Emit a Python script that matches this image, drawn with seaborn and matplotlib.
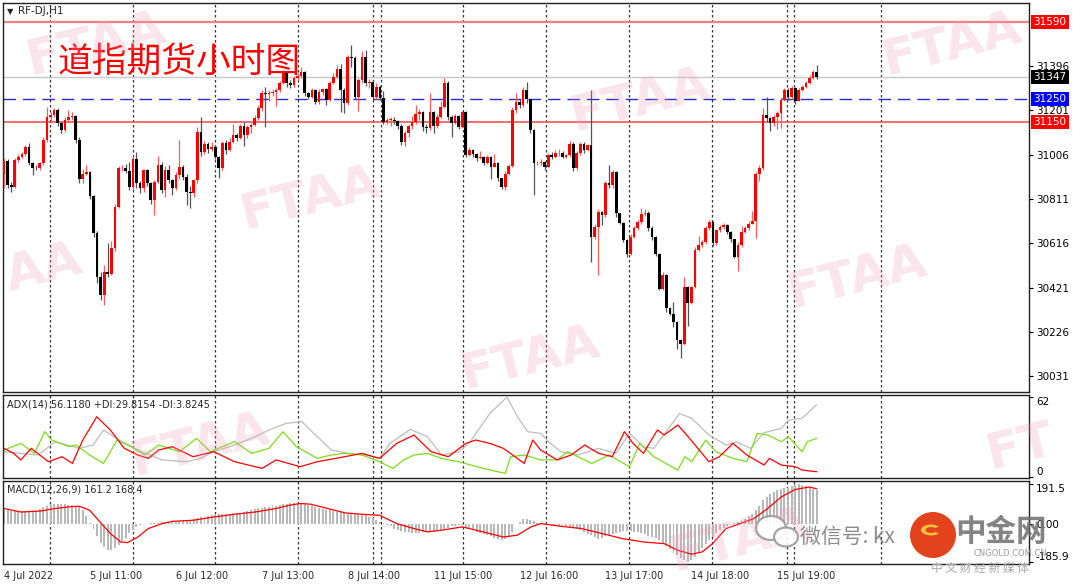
import numpy as np
import matplotlib.pyplot as plt
import matplotlib.patches as mpatches
import seaborn as sns

sns.set_style("white")
plt.rcParams['font.family'] = ['DejaVu Sans', 'Noto Sans CJK SC']

# RF-DJ H1 candles: open of the first bar, then close / high / low of every bar
first_open = 30923
closes = [30979, 30872, 30865, 30982, 30997, 31007, 31041, 30971, 30949, 30946,
          30968, 31070, 31170, 31179, 31202, 31144, 31114, 31158, 31170, 31174,
          31070, 30897, 30921, 30930, 30824, 30662, 30469, 30388, 30491, 30483,
          30594, 30777, 30946, 30949, 30935, 30865, 30985, 30880, 30858, 30938,
          30880, 30806, 30887, 30960, 30850, 30938, 30894, 30858, 30916, 30953,
          30909, 30843, 30836, 30894, 31107, 31019, 31053, 31029, 31041, 30997,
          30946, 31056, 31026, 31063, 31092, 31080, 31132, 31092, 31126, 31136,
          31166, 31210, 31276, 31273, 31278, 31280, 31290, 31322, 31364, 31320,
          31312, 31342, 31352, 31371, 31276, 31261, 31290, 31239, 31283, 31293,
          31246, 31320, 31349, 31381, 31290, 31232, 31437, 31429, 31261, 31334,
          31437, 31320, 31327, 31261, 31305, 31254, 31151, 31158, 31160, 31154,
          31132, 31063, 31100, 31132, 31151, 31185, 31195, 31129, 31122, 31195,
          31132, 31173, 31217, 31320, 31173, 31144, 31176, 31129, 31195, 31004,
          31026, 31009, 30990, 30997, 30971, 30994, 30953, 30971, 30902, 30865,
          30923, 30956, 31202, 31239, 31224, 31290, 31249, 31114, 30968, 30971,
          30975, 30953, 31004, 30997, 31012, 31015, 30997, 31004, 31053, 30946,
          31012, 31053, 31026, 31048, 30645, 30689, 30755, 30740, 30880, 30872,
          30931, 30748, 30706, 30630, 30571, 30645, 30682, 30711, 30745, 30750,
          30682, 30645, 30571, 30417, 30476, 30330, 30307, 30271, 30190, 30175,
          30425, 30352, 30425, 30586, 30608, 30623, 30682, 30711, 30616, 30674,
          30686, 30696, 30667, 30633, 30557, 30608, 30667, 30682, 30703, 30715,
          30923, 30946, 31180, 31166, 31147, 31170, 31191, 31246, 31290, 31258,
          31298, 31243, 31290, 31305, 31322, 31342, 31368, 31347]
highs = [30990, 30985, 30885, 30990, 31007, 31019, 31048, 31056, 30975, 30960,
         30975, 31085, 31217, 31195, 31210, 31210, 31151, 31170, 31202, 31195,
         31180, 31085, 30945, 30960, 30935, 30830, 30670, 30490, 30520, 30616,
         30625, 30790, 30955, 30960, 30965, 30975, 31000, 31019, 30890, 30945,
         30945, 30887, 30895, 31000, 30975, 30955, 30960, 30900, 30930, 31070,
         30960, 30920, 30870, 30900, 31129, 31170, 31065, 31060, 31060, 31045,
         31000, 31065, 31070, 31078, 31140, 31100, 31140, 31150, 31135, 31144,
         31180, 31224, 31290, 31305, 31290, 31295, 31298, 31330, 31380, 31372,
         31335, 31350, 31364, 31390, 31375, 31280, 31300, 31295, 31295, 31300,
         31298, 31330, 31364, 31400, 31405, 31300, 31445, 31488, 31440, 31345,
         31460, 31466, 31340, 31334, 31320, 31312, 31285, 31165, 31170, 31170,
         31160, 31140, 31110, 31140, 31175, 31224, 31205, 31200, 31140, 31276,
         31200, 31185, 31240, 31342, 31330, 31180, 31185, 31180, 31200, 31200,
         31040, 31030, 31015, 31020, 31000, 31005, 31000, 31010, 30975, 30905,
         30935, 30965, 31217, 31276, 31250, 31305, 31327, 31250, 31118, 30980,
         30985, 30980, 31015, 31019, 31025, 31030, 31020, 31010, 31065, 31060,
         31020, 31060, 31060, 31055, 31290, 30700, 30765, 30760, 30890, 30960,
         30940, 30935, 30750, 30710, 30635, 30655, 30690, 30720, 30770, 30765,
         30760, 30690, 30650, 30575, 30490, 30480, 30335, 30360, 30275, 30195,
         30468, 30430, 30430, 30600, 30650, 30630, 30690, 30720, 30715, 30680,
         30695, 30705, 30700, 30670, 30636, 30620, 30690, 30690, 30715, 30760,
         30930, 30960, 31210, 31260, 31170, 31180, 31200, 31258, 31300, 31300,
         31310, 31305, 31300, 31312, 31330, 31356, 31378, 31400]
lows = [30860, 30858, 30843, 30858, 30975, 30990, 31000, 30960, 30916, 30938,
        30938, 30960, 31060, 31151, 31170, 31130, 31100, 31107, 31151, 31158,
        31056, 30880, 30880, 30915, 30810, 30645, 30440, 30365, 30345, 30470,
        30476, 30580, 30770, 30935, 30925, 30850, 30850, 30860, 30836, 30843,
        30870, 30790, 30740, 30880, 30836, 30820, 30880, 30828, 30850, 30900,
        30895, 30785, 30770, 30820, 30880, 31000, 31010, 31015, 31020, 30985,
        30902, 30940, 31010, 31020, 31056, 31065, 31075, 31044, 31080, 31100,
        31130, 31160, 31200, 31126, 31240, 31265, 31220, 31280, 31315, 31305,
        31298, 31305, 31335, 31345, 31265, 31250, 31255, 31230, 31230, 31270,
        31224, 31240, 31315, 31345, 31195, 31188, 31225, 31390, 31250, 31200,
        31320, 31310, 31300, 31250, 31250, 31245, 31140, 31140, 31130, 31140,
        31120, 31050, 31045, 31085, 31120, 31140, 31160, 31110, 31100, 31115,
        31100, 31125, 31165, 31210, 31160, 31085, 31140, 31120, 31125, 30995,
        31000, 30997, 30980, 30985, 30960, 30965, 30900, 30950, 30890, 30855,
        30850, 30915, 30950, 31190, 31210, 31215, 31235, 31100, 30828, 30960,
        30960, 30940, 30950, 30985, 30990, 31000, 30990, 30990, 30995, 30935,
        30940, 31005, 31015, 31020, 30535, 30635, 30476, 30696, 30730, 30860,
        30860, 30730, 30700, 30620, 30557, 30565, 30640, 30675, 30700, 30735,
        30670, 30630, 30560, 30410, 30410, 30315, 30300, 30250, 30150, 30110,
        30170, 30254, 30350, 30420, 30580, 30600, 30615, 30675, 30605, 30610,
        30665, 30680, 30655, 30620, 30550, 30495, 30600, 30660, 30675, 30700,
        30640, 30890, 30940, 31150, 31110, 31130, 31120, 31125, 31240, 31245,
        31250, 31230, 31240, 31285, 31300, 31318, 31340, 31340]

price_ticks = [31396, 31201, 31006, 30811, 30616, 30421, 30226, 30031]
level_prices = [31590, 31347, 31250, 31150]
level_box_colors = ['#ff0000', '#000000', '#0000ff', '#ff0000']

date_bars = [0, 24, 48, 72, 96, 120, 144, 168, 192, 216]
date_labels = ['4 Jul 2022', '5 Jul 11:00', '6 Jul 12:00', '7 Jul 13:00', '8 Jul 14:00',
               '11 Jul 15:00', '12 Jul 16:00', '13 Jul 17:00', '14 Jul 18:00', '15 Jul 19:00']
sep_bars = [12.9, 36.0, 58.9, 82.1, 103.1, 105.3, 128.2, 151.4, 174.6, 197.8, 218.7, 220.7, 245.0]

# ADX(14) panel, values read at the turning points
adx_x = [0, 9.5, 14.3, 21.0, 24.9, 27.8, 32.1, 38.4, 44.2, 50.9,
         54.8, 58.6, 64.4, 70.2, 74.0, 78.8, 83.2, 85.6, 91.4, 96.2,
         101.0, 104.9, 107.8, 113.5, 118.3, 122.2, 127.0, 129.9, 135.7, 140.5,
         143.4, 146.3, 149.9, 152.6, 155.5, 160.3, 166.1, 170.9, 174.7, 178.6,
         181.5, 188.7, 192.1, 196.9, 201.7, 204.6, 208.5, 212.3, 217.1, 219.1,
         222.9, 227]
adx_vals = [19.4, 16.8, 27.2, 22.0, 24.6, 36.3, 28.5, 19.4, 13.0, 11.6,
            14.2, 19.4, 24.6, 31.1, 36.3, 41.5, 42.8, 36.3, 20.7, 18.1,
            16.8, 14.2, 25.9, 36.8, 31.1, 16.8, 19.4, 25.9, 49.2, 62.0,
            46.6, 35.0, 33.7, 25.9, 19.4, 16.8, 22.0, 18.1, 33.7, 23.3,
            22.0, 49.2, 45.4, 32.4, 24.6, 27.2, 22.0, 34.2, 37.6, 44.0,
            45.4, 56.1]
pdi_x = [0, 4.7, 8.5, 11.4, 13.3, 18.2, 20.1, 23.9, 27.8, 31.6,
         35.5, 39.3, 43.2, 49.0, 53.8, 57.6, 64.4, 69.2, 74.0, 77.9,
         81.7, 87.5, 91.4, 95.2, 100.0, 104.9, 108.7, 111.6, 114.5, 118.3,
         122.2, 127.0, 133.8, 140.0, 141.5, 145.3, 149.9, 154.5, 157.4, 160.3,
         164.2, 169.0, 174.7, 177.6, 181.5, 188.2, 190.2, 192.1, 196.0, 198.8,
         203.6, 207.5, 210.4, 213.3, 217.1, 219.1, 222.9, 224.4, 227]
pdi_vals = [20.7, 25.9, 18.1, 35.0, 28.5, 23.3, 24.6, 16.8, 10.3, 28.5,
            23.3, 16.8, 24.6, 19.4, 29.8, 19.4, 27.2, 18.1, 22.0, 35.0,
            23.3, 14.2, 16.8, 18.1, 16.8, 11.6, 6.4, 13.0, 16.8, 18.1,
            14.2, 11.6, 6.4, 2.5, 15.5, 16.8, 13.0, 13.0, 19.4, 15.5,
            10.3, 16.8, 7.7, 25.9, 15.5, 5.1, 15.5, 11.6, 28.5, 19.4,
            14.2, 11.6, 33.7, 32.4, 27.2, 31.1, 19.4, 27.2, 29.8]
mdi_x = [0, 2.7, 4.7, 7.6, 12.4, 16.2, 19.1, 22.0, 25.9, 29.7,
         33.6, 37.4, 40.3, 43.2, 47.0, 52.8, 58.6, 64.4, 72.1, 76.0,
         82.7, 87.5, 95.2, 100.0, 104.9, 109.7, 114.5, 119.3, 124.1, 129.0,
         131.8, 135.7, 139.5, 145.3, 147.7, 149.9, 154.5, 158.4, 162.2, 166.1,
         169.9, 173.3, 175.7, 178.6, 182.5, 184.4, 188.2, 191.1, 196.9, 199.8,
         203.6, 207.5, 212.3, 213.8, 217.1, 221.0, 222.9, 227]
mdi_vals = [22.0, 18.1, 13.0, 22.0, 11.6, 15.5, 10.3, 28.5, 46.6, 36.3,
            22.0, 16.8, 14.2, 20.7, 23.3, 15.5, 19.4, 11.6, 6.4, 13.0,
            7.7, 11.6, 15.5, 18.1, 14.2, 25.9, 32.4, 19.4, 15.5, 25.9,
            28.5, 25.9, 22.0, 10.3, 28.5, 20.7, 13.0, 16.8, 24.6, 18.1,
            15.5, 35.0, 25.9, 18.1, 36.3, 32.4, 40.2, 31.1, 11.6, 15.5,
            25.9, 16.8, 9.0, 14.2, 9.0, 7.7, 5.1, 3.8]

# MACD(12,26,9): histogram per bar, signal line at turning points
macd_hist = [65, 64, 63, 62, 61, 61, 61, 61, 61, 62,
             70, 78, 84, 89, 93, 94, 94, 93, 92, 90,
             86, 80, 65, 35, 5, -25, -60, -95, -115, -129,
             -126, -118, -105, -85, -70, -45, -30, -15, -8, -3,
             0, 3, 4, 5, 7, 8, 9, 10, 10, 11,
             11, 13, 17, 22, 26, 30, 34, 38, 41, 43,
             45, 46, 47, 48, 49, 51, 52, 56, 61, 66,
             70, 73, 76, 79, 82, 84, 86, 90, 94, 97,
             99, 100, 100, 98, 94, 89, 84, 78, 74, 71,
             68, 64, 61, 57, 54, 52, 50, 48, 47, 46,
             45, 40, 34, 26, 18, 10, 3, -5, -14, -24,
             -30, -35, -40, -43, -45, -45, -44, -43, -42, -41,
             -40, -36, -32, -26, -22, -14, -10, -8, -8, -15,
             -25, -32, -40, -47, -52, -56, -62, -68, -73, -77,
             -75, -65, -40, 0, 10, 24, 22, 19, 12, 3,
             -3, -4, -5, -7, -8, -10, -12, -14, -16, -20,
             -26, -33, -40, -48, -56, -64, -73, -68, -62, -55,
             -50, -45, -40, -36, -35, -37, -40, -43, -45, -52,
             -58, -65, -72, -81, -95, -110, -125, -140, -150, -165,
             -178, -185.9, -175, -160, -137, -120, -100, -80, -65, -45,
             -30, -19, -10, -2, 3, 8, 15, 24, 36, 48,
             65, 85, 113, 130, 145, 155, 161, 166, 170, 174,
             180, 185, 191.5, 188, 182, 175, 168, 161.2]
sig_x = [0, 4.7, 10.4, 14.3, 18.2, 21.0, 23.9, 26.8, 29.7, 32.6,
         34.5, 37.4, 40.3, 44.2, 47.0, 52.8, 58.6, 64.4, 70.2, 76.0,
         79.8, 82.7, 85.6, 90.4, 95.2, 100.0, 104.9, 109.7, 114.5, 118.3,
         122.2, 128.0, 133.8, 139.5, 143.4, 147.2, 149.9, 155.5, 161.3, 167.0,
         172.8, 178.6, 184.4, 188.2, 192.1, 195.0, 197.9, 201.7, 205.6, 209.4,
         213.3, 217.1, 221.0, 224.9, 227]
sig_vals = [73, 56, 61, 73, 81, 84, 65, 8, -48, -89,
            -92, -65, -24, 0, 11, 16, 32, 45, 56, 73,
            89, 97, 94, 73, 52, 45, 40, 0, -24, -40,
            -32, -16, -40, -65, -56, -16, 0, -13, -24, -48,
            -73, -89, -97, -129, -148, -137, -97, -24, 0, 24,
            73, 129, 165, 177, 168.4]

# ---------------------------------------------------------------
W, H = 1080, 585
fig = plt.figure(figsize=(W / 100, H / 100), dpi=100)
fig.patch.set_facecolor('white')


def panel(top, bottom):
    return fig.add_axes([3 / W, 1 - bottom / H, 1026 / W, (bottom - top) / H])


ax = panel(3, 392)
ax_adx = panel(395, 478)
ax_macd = panel(481, 564)

for a in (ax, ax_adx, ax_macd):
    a.set_facecolor('white')
    a.set_xlim(-0.28, 286.3)
    for xb in sep_bars:
        a.axvline(xb, color='#333333', lw=0.9, ls=(0, (2, 2)), zorder=1)
    for s in a.spines.values():
        s.set_color('#202020')
        s.set_linewidth(1)
    a.yaxis.tick_right()
    a.tick_params(axis='y', length=3, width=0.8, labelsize=7.5, pad=2,
                  colors='black', direction='out')
    a.set_xlabel('')
    a.set_ylabel('')

# candles
idx = np.arange(len(closes))
c = np.array(closes, float)
o = np.array([first_open] + closes[:-1], float)
hi = np.array(highs, float)
lo = np.array(lows, float)
up = c >= o
ax.vlines(idx[up], lo[up], hi[up], color='#ff5c5c', lw=0.9, zorder=3)
ax.vlines(idx[~up], lo[~up], hi[~up], color='#555555', lw=0.9, zorder=3)
body_bottom = np.minimum(o, c)
body_h = np.maximum(np.abs(c - o), 3)
ax.bar(idx, body_h, bottom=body_bottom, width=0.75,
       color=np.where(up, '#ff0000', '#000000'), linewidth=0, zorder=4)

# horizontal levels
ax.axhline(level_prices[0], color='#f57f7f', lw=1.6, zorder=2)
ax.axhline(level_prices[1], color='#c8c8c8', lw=1.0, zorder=2)
ax.axhline(level_prices[2], color='#2b2bd6', lw=1.0, ls=(0, (9, 5)), zorder=2)
ax.axhline(level_prices[3], color='#f25555', lw=1.2, zorder=2)

ax.set_ylim(29962, 31673)
ax.set_yticks(price_ticks)
ax.set_yticklabels([str(p) for p in price_ticks])
ax.set_xticks([])
for p, col in zip(level_prices, level_box_colors):
    ax.text(1.0045, p, str(p), transform=ax.get_yaxis_transform(), ha='left',
            va='center', fontsize=7.5, color='white', clip_on=False, zorder=6,
            bbox=dict(boxstyle='square,pad=0.22', fc=col, ec='none'))

ax.text(0.0035, 0.979, '\u25bc', transform=ax.transAxes, fontsize=6,
        va='center', ha='left')
ax.text(0.0145, 0.979, 'RF-DJ,H1', transform=ax.transAxes, fontsize=7.5,
        va='center', ha='left')
ax.text(0.0536, 0.848, '道指期货小时图', transform=ax.transAxes, fontsize=25,
        fontweight='light', color='#ff0000', va='center', ha='left',
        family=['Noto Sans CJK SC'])

# ADX panel
sns.lineplot(x=adx_x, y=adx_vals, ax=ax_adx, color='#bdbdbd', lw=0.9)
sns.lineplot(x=pdi_x, y=pdi_vals, ax=ax_adx, color='#7cdc1c', lw=0.9)
sns.lineplot(x=mdi_x, y=mdi_vals, ax=ax_adx, color='#ff0000', lw=0.9)
ax_adx.set_xlim(-0.28, 286.3)
ax_adx.set_ylim(-1.1, 63.6)
ax_adx.set_xticks([])
ax_adx.set_yticks([62, 0])
ax_adx.set_yticklabels(['62', '0'])
ax_adx.get_yticklabels()[0].set_va('top')
ax_adx.get_yticklabels()[1].set_va('bottom')
ax_adx.text(0.004, 0.88, 'ADX(14) 56.1180 +DI:29.8154 -DI:3.8245',
            transform=ax_adx.transAxes, fontsize=7, va='center', ha='left')

# MACD panel
ax_macd.bar(idx, macd_hist, width=0.55, color='#b8b8b8', linewidth=0, zorder=2)
sns.lineplot(x=sig_x, y=sig_vals, ax=ax_macd, color='#ff0000', lw=0.9)
ax_macd.set_xlim(-0.28, 286.3)
ax_macd.set_ylim(-195.5, 206)
ax_macd.set_yticks([191.5, 0, -185.9])
ax_macd.set_yticklabels(['191.5', '0.00', '-185.9'])
ax_macd.get_yticklabels()[0].set_va('top')
ax_macd.get_yticklabels()[2].set_va('bottom')
ax_macd.set_xticks(date_bars)
ax_macd.set_xticklabels(date_labels, ha='left', fontsize=7)
ax_macd.tick_params(axis='x', length=3, width=0.8, pad=2, direction='out')
ax_macd.text(0.004, 0.9, 'MACD(12,26,9) 161.2 168.4',
             transform=ax_macd.transAxes, fontsize=7, va='center', ha='left')
ax_macd.set_xlabel('')

# FTAA watermarks (partly hidden ones keep only their visible letters)
for txt, xp, yp in [('FTAA', 96, 44), ('FTAA', 310, 198), ('FTAA', 640, 100),
                    ('FTAA', 530, 358), ('FTAA', 952, 44), ('FTAA', 857, 277),
                    ('AA', 44, 268), ('FTAA', 200, 445), ('FT', 1020, 447),
                    ('FTAA', 740, 540)]:
    fig.text(xp / W, 1 - yp / H, txt, fontsize=36, fontweight='bold',
             color='#f0a0bc', alpha=0.27, rotation=14, rotation_mode='anchor',
             ha='center', va='center', zorder=10)

# bottom right WeChat / CNGOLD mark
for cx, cy, w, h in [(771, 528, 30, 24), (786, 537, 24, 19)]:
    fig.patches.append(mpatches.Ellipse((cx / W, 1 - cy / H), w / W, h / H,
                                        transform=fig.transFigure, fc='white',
                                        ec='#9a9a9a', lw=1.6, alpha=0.9, zorder=11))
fig.text(800 / W, 1 - 537 / H, '微信号: kx', fontsize=15, color='#8c8c8c',
         ha='left', va='center', family=['Noto Sans CJK SC', 'DejaVu Sans'], zorder=11)
fig.patches.append(mpatches.Ellipse((933 / W, 1 - 535 / H), 46 / W, 46 / H,
                                    transform=fig.transFigure, fc='#e2431c',
                                    ec='none', zorder=12))
fig.patches.append(mpatches.Wedge((931 / W, 1 - 530 / H), 10 / W, 40, 320,
                                  width=4.5 / W, transform=fig.transFigure,
                                  fc='#f6c43a', ec='none', zorder=13))
fig.text(1001 / W, 1 - 532 / H, '中金网', fontsize=22, fontweight='bold',
         color='#6e6e6e', alpha=0.85, ha='center', va='center',
         family=['Noto Sans CJK SC'], zorder=12)
fig.text(1010 / W, 1 - 553 / H, 'CNGOLD.COM.CN', fontsize=6, color='#9a9a9a',
         ha='center', va='center', zorder=12)
fig.text(980 / W, 1 - 568 / H, '中 文 财 经 新 媒 体', fontsize=8.5, color='#a8a8a8',
         ha='center', va='center', family=['Noto Sans CJK SC'], zorder=12)

fig.savefig('out.png', dpi=100)
